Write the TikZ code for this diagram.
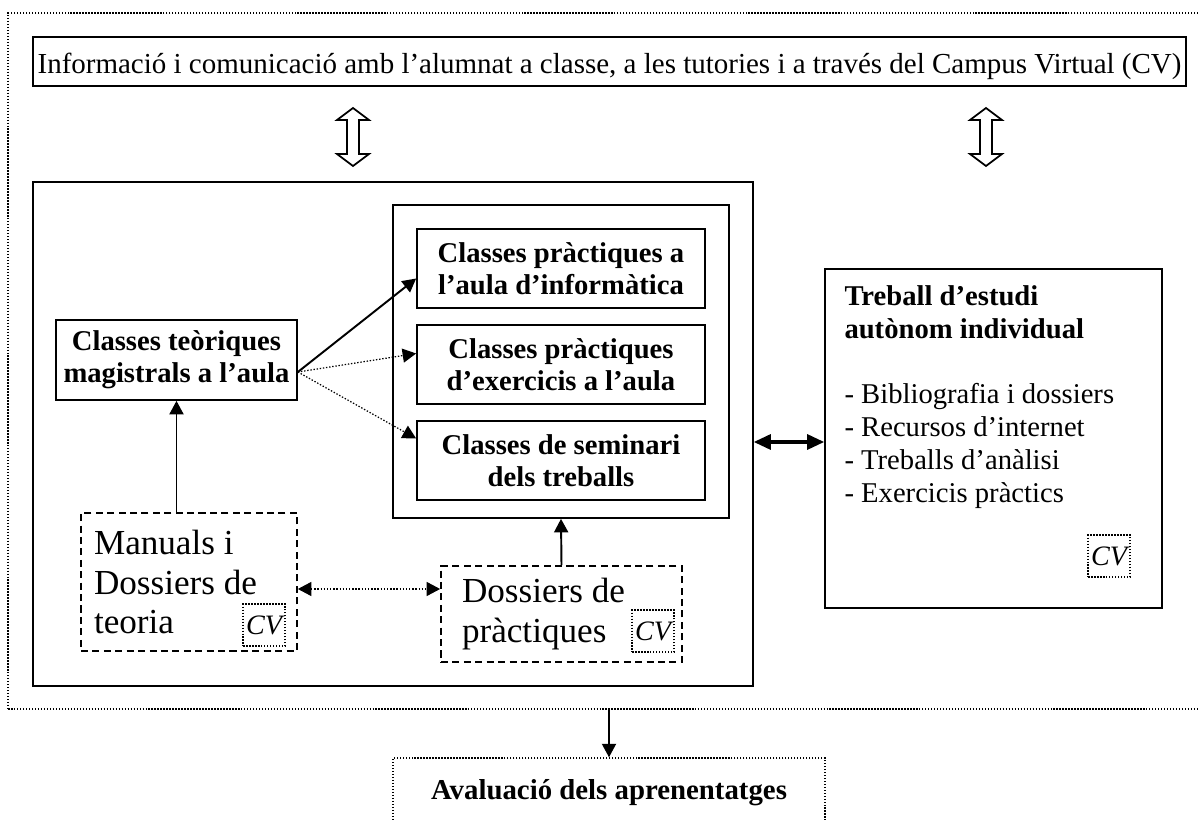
\documentclass[tikz,border=0pt]{standalone}
\usepackage{fontspec}
\setmainfont{Liberation Serif}
\usetikzlibrary{arrows.meta}

% hollow up-down arrow, centred at #1
\newcommand{\updown}[1]{%
  \draw[line width=1pt, shift={#1}] (0,-29) -- (16,-17) -- (6,-17) -- (6,17) -- (16,17)
    -- (0,29) -- (-16,17) -- (-6,17) -- (-6,-17) -- (-16,-17) -- cycle;}

\begin{document}
\begin{tikzpicture}[x=0.02cm, y=-0.02cm,
    box/.style={draw, line width=1pt, inner sep=0pt, align=center},
    bbox/.style={box, font=\fontsize{16.3}{18.2}\selectfont\bfseries},
    dashbox/.style={draw, line width=1pt, dash pattern=on 4pt off 2.5pt, inner ysep=0pt, align=flush left, font=\fontsize{20}{22.7}\selectfont},
    dotbox/.style={draw, line width=0.8pt, dash pattern=on 0.8pt off 0.9pt, inner sep=0pt},
    cvbox/.style={dotbox, minimum width=0.84cm, minimum height=0.84cm, font=\fontsize{16}{18}\selectfont\itshape},
    arr/.style={-{Triangle[length=0.27cm, width=0.28cm]}, line width=1.1pt},
    dotarr/.style={arr, line width=0.7pt, dash pattern=on 0.8pt off 1pt}]
  \useasboundingbox (0,0) rectangle (1198,820);

  \node (frame) [dotbox, minimum width=23.94cm, minimum height=13.92cm] at (606.5,361) {};
  \node (info) [box, minimum width=23.06cm, minimum height=0.98cm, text height=0.6cm, text depth=0.1cm,
    font=\fontsize{16.5}{18}\selectfont] at (609.5,61.5)
    {Informació i comunicació amb l’alumnat a classe, a les tutories i a través del Campus Virtual (CV)};
  \updown{(353,137)}
  \updown{(986,137)}

  % classes
  \node (main) [box, minimum width=14.4cm, minimum height=10.08cm] at (393,434) {};
  \node (inner) [box, minimum width=6.72cm, minimum height=6.26cm] at (561,361.5) {};
  \node (pA) [bbox, minimum width=5.76cm, minimum height=1.58cm] at (561,268.5) {Classes pràctiques a\\l’aula d’informàtica};
  \node (pB) [bbox, minimum width=5.76cm, minimum height=1.58cm] at (561,364.5) {Classes pràctiques\\d’exercicis a l’aula};
  \node (pC) [bbox, minimum width=5.76cm, minimum height=1.58cm] at (561,460.5) {Classes de seminari\\dels treballs};
  \node (theory) [bbox, minimum width=4.82cm, minimum height=1.6cm] at (176.5,360) {Classes teòriques\\magistrals a l’aula};

  % dossiers
  \node (manuals) [dashbox, text width=3.8cm, inner xsep=0.26cm, minimum height=2.76cm] at (189,582) {Manuals i\\Dossiers de\\teoria};
  \node (cv1) [cvbox, anchor=south east] at ([xshift=-0.24cm, yshift=0.1cm]manuals.south east) {CV};
  \node (dossiers) [dashbox, text width=3.98cm, inner xsep=0.42cm, minimum height=1.92cm] at (561.5,614) {Dossiers de\\pràctiques};
  \node (cv2) [cvbox, anchor=south east] at ([xshift=-0.16cm, yshift=0.2cm]dossiers.south east) {CV};

  % autonomous work
  \node (treball) [box, minimum width=6.74cm, minimum height=6.78cm] at (993.5,438.5) {};
  \node (tasks) [anchor=north west, align=left, inner sep=0pt, font=\fontsize{16.3}{18.7}\selectfont]
    at ([xshift=0.4cm, yshift=-0.34cm]treball.north west)
    {\textbf{Treball d’estudi}\\\textbf{autònom individual}\\[18.7pt]- Bibliografia i dossiers\\- Recursos d’internet\\- Treballs d’anàlisi\\- Exercicis pràctics};
  \node (cv3) [cvbox, anchor=south east] at ([xshift=-0.64cm, yshift=0.62cm]treball.south east) {CV};

  \node (eval) [dotbox, minimum width=8.64cm, minimum height=1.4cm, font=\fontsize{16.4}{18}\selectfont\bfseries] at (609,793) {Avaluació dels aprenentatges};

  % connectors
  \coordinate (fan) at ([yshift=-0.24cm]theory.east);
  \draw[arr] (fan) -- ([yshift=-0.2cm]pA.west);
  \draw[dotarr] (fan) -- ([yshift=0.22cm]pB.west);
  \draw[dotarr] (fan) -- ([yshift=0.44cm]pC.west);
  \draw[arr] (manuals.north -| theory.south) -- (theory.south);
  \draw[arr] (dossiers.north) -- (inner.south);
  \coordinate (link) at ([yshift=-0.14cm]manuals.east);
  \draw[dotarr, {Triangle[length=0.27cm, width=0.28cm]}-{Triangle[length=0.27cm, width=0.28cm]}] (link) -- (link -| dossiers.west);
  \coordinate (side) at ([yshift=-0.16cm]main.east);
  \draw[line width=1.8pt, {Triangle[length=0.34cm, width=0.3cm]}-{Triangle[length=0.34cm, width=0.3cm]}] (side) -- (side -| treball.west);
  \draw[arr] (frame.south -| eval.north) -- (eval.north);
\end{tikzpicture}
\end{document}
